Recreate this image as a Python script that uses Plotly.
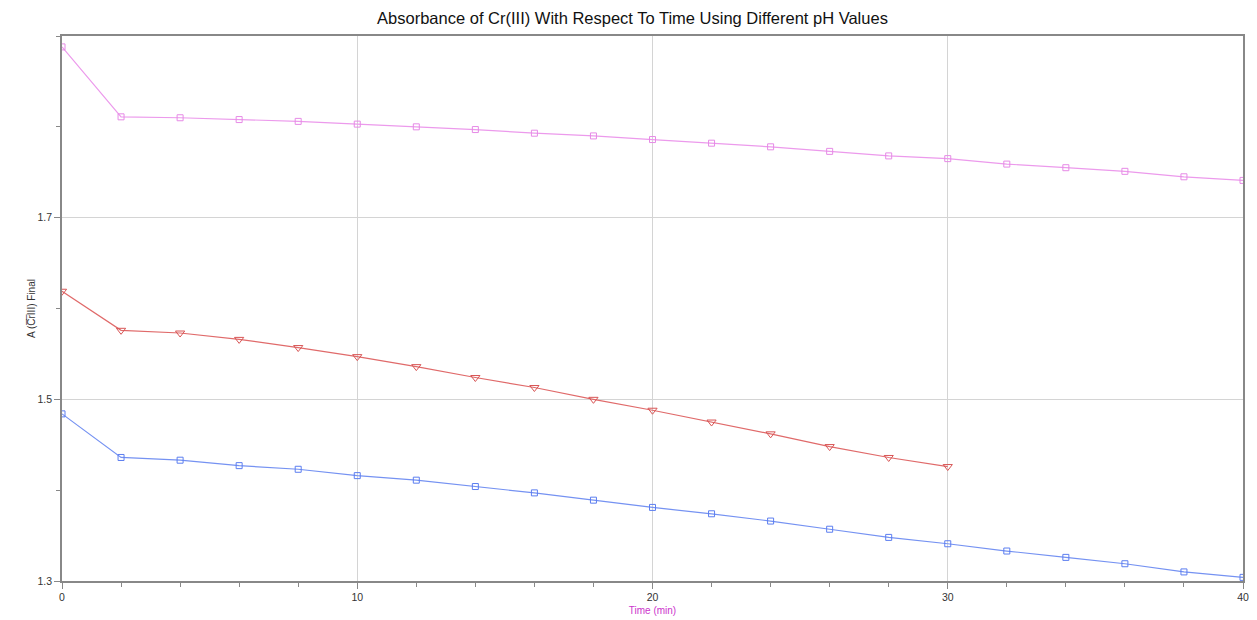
import plotly.graph_objects as go

time_all = [0, 2, 4, 6, 8, 10, 12, 14, 16, 18, 20, 22, 24, 26, 28, 30, 32, 34, 36, 38, 40]
time_red = [0, 2, 4, 6, 8, 10, 12, 14, 16, 18, 20, 22, 24, 26, 28, 30]

pink_vals = [1.888, 1.811, 1.810, 1.808, 1.806, 1.803, 1.800, 1.797, 1.793, 1.790, 1.786,
             1.782, 1.778, 1.773, 1.768, 1.765, 1.759, 1.755, 1.751, 1.745, 1.741]
red_vals = [1.619, 1.576, 1.573, 1.566, 1.557, 1.547, 1.536, 1.524, 1.513, 1.500, 1.488,
            1.475, 1.462, 1.448, 1.436, 1.426]
blue_vals = [1.484, 1.436, 1.433, 1.427, 1.423, 1.416, 1.411, 1.404, 1.397, 1.389, 1.381,
             1.374, 1.366, 1.357, 1.348, 1.341, 1.333, 1.326, 1.319, 1.310, 1.304]

x_ticks = [0, 10, 20, 30, 40]
y_ticks = [1.3, 1.5, 1.7]

fig = go.Figure()
fig.add_trace(go.Scatter(x=time_all, y=pink_vals, mode="lines+markers",
                         line=dict(color="#ec9aec", width=1.2),
                         marker=dict(symbol="square-open", size=6, color="#e68ae6", line=dict(width=1))))
fig.add_trace(go.Scatter(x=time_red, y=red_vals, mode="lines+markers",
                         line=dict(color="#e06a6a", width=1.2),
                         marker=dict(symbol="triangle-down-open", size=8, color="#d85555", line=dict(width=1))))
fig.add_trace(go.Scatter(x=time_all, y=blue_vals, mode="lines+markers",
                         line=dict(color="#7592f2", width=1.2),
                         marker=dict(symbol="square-open", size=6, color="#5c7ef0", line=dict(width=1))))

fig.update_layout(
    width=1249, height=612,
    margin=dict(l=54, r=14, t=28, b=39, autoexpand=False),
    paper_bgcolor="white", plot_bgcolor="white",
    showlegend=False,
    font=dict(family="Liberation Sans, Arial, sans-serif", color="#333"),
    title=dict(text="Absorbance of Cr(III) With Respect To Time Using Different pH Values",
               x=0.5, xanchor="center", y=0.993, yanchor="top",
               font=dict(size=16.5, color="#111")),
    xaxis=dict(range=[0, 40], tickvals=x_ticks, ticks="outside", ticklen=6, tickcolor="#888",
               showline=True, linecolor="#888", linewidth=1.5, mirror=True,
               showgrid=True, gridcolor="#d4d4d4", gridwidth=1, zeroline=False,
               tickfont=dict(size=10.5, color="#333"), automargin=False,
               minor=dict(dtick=2, ticks="outside", ticklen=4, tickcolor="#888", showgrid=False),
               title=dict(text="Time (min)", font=dict(size=10, color="#cc33cc"), standoff=5)),
    yaxis=dict(range=[1.3, 1.9], tickvals=y_ticks, ticks="outside", ticklen=6, tickcolor="#888",
               showline=True, linecolor="#888", linewidth=1.5, mirror=True,
               showgrid=True, gridcolor="#d4d4d4", gridwidth=1, zeroline=False,
               tickfont=dict(size=10.5, color="#333"), automargin=False,
               minor=dict(dtick=0.1, ticks="outside", ticklen=4, tickcolor="#888", showgrid=False),
               title=dict(text="A (C\u0305r\u0305III) Final", font=dict(size=10, color="#333"), standoff=0)),
)

fig.write_html("out.html")
